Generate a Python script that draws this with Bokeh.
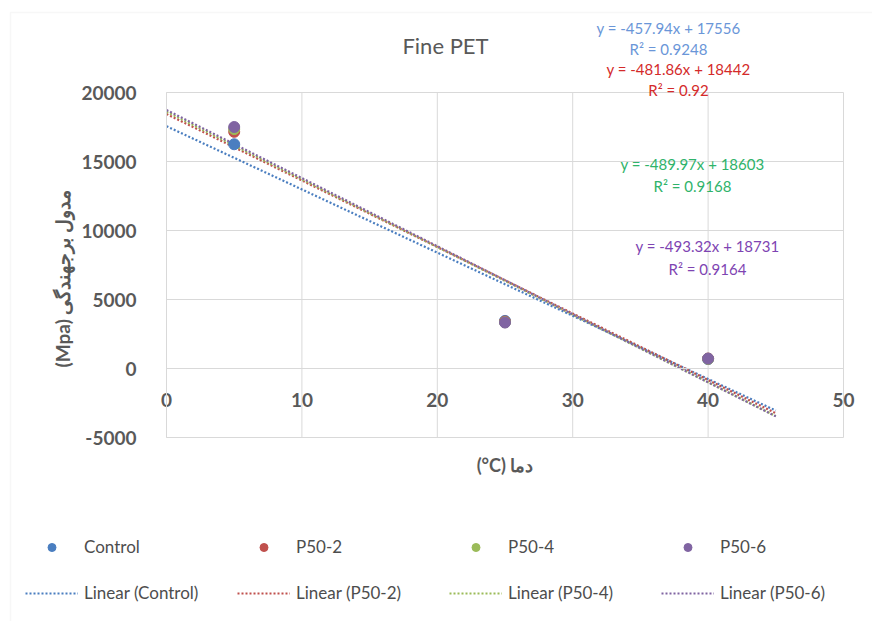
import math
from bokeh.plotting import figure
from bokeh.models import (Range1d, FixedTicker, Label, Legend, LegendItem, ColumnDataSource,
                          LinearAxis, BoxAnnotation)
from bokeh.embed import file_html
from bokeh.resources import INLINE

# ---- data ----
temps = [5, 25, 40]
series_names = ["Control", "P50-2", "P50-4", "P50-6"]
control = [16250, 3450, 680]
p50_2 = [17150, 3400, 720]
p50_4 = [17350, 3350, 700]
p50_6 = [17500, 3330, 720]
slopes = [-457.94, -481.86, -489.97, -493.32]
intercepts = [17556, 18442, 18603, 18731]
r2_values = [0.9248, 0.92, 0.9168, 0.9164]
trend_x = [0, 45]
x_ticks = [0, 10, 20, 30, 40, 50]
y_ticks = [-5000, 0, 5000, 10000, 15000, 20000]

title_text = "Fine PET"
x_title = "(°C) دما"
y_title = "(Mpa) مدول برجهندگی"

# ---- layout (pixel geometry of the plot area inside the 872x621 canvas) ----
W, H = 872, 621
PX_X0, PX_X1 = 166, 843     # x = 0 .. 50
PX_Y0, PX_Y1 = 437, 92      # y = -5000 .. 20000
kx = (PX_X1 - PX_X0) / (x_ticks[-1] - x_ticks[0])
ky = (PX_Y0 - PX_Y1) / (y_ticks[-1] - y_ticks[0])
def px2x(px):
    return x_ticks[0] + (px - PX_X0) / kx
def py2y(py):
    return y_ticks[0] + (PX_Y0 - py) / ky

# ---- styles ----
marker_colors = ["#4A7EC0", "#C0504D", "#9BBB59", "#8064A2"]
eq_colors = ["#6A96D8", "#D42A2A", "#2FB36A", "#7E44B2"]
FONT = "Lato"
GRAY = "#595959"
GRID = "#D9D9D9"

p = figure(width=W, height=H, output_backend="svg", toolbar_location=None,
           x_range=Range1d(px2x(0), px2x(W)), y_range=Range1d(py2y(H), py2y(0)),
           x_axis_type=None, y_axis_type=None,
           min_border=0, min_border_left=0, min_border_right=0,
           min_border_top=0, min_border_bottom=0)
p.outline_line_color = None
p.background_fill_color = "white"
p.border_fill_color = "white"
p.title.visible = False

# chart-area border (left/top visible in the reference)
p.add_layout(BoxAnnotation(left=px2x(10), right=px2x(W + 20), top=py2y(12), bottom=py2y(H + 20),
                           fill_alpha=0, line_color="#E3E3E3", line_width=1.5))

# axes placed at data locations
xaxis = LinearAxis(ticker=FixedTicker(ticks=x_ticks), fixed_location=0,
                   bounds=(x_ticks[0], x_ticks[-1]))
yaxis = LinearAxis(ticker=FixedTicker(ticks=y_ticks), fixed_location=0,
                   bounds=(y_ticks[0], y_ticks[-1]))
for ax in (xaxis, yaxis):
    ax.axis_line_color = GRID
    ax.major_tick_line_color = None
    ax.minor_tick_line_color = None
    ax.major_label_text_font = FONT
    ax.major_label_text_font_size = "19px"
    ax.major_label_text_font_style = "bold"
    ax.major_label_text_color = GRAY
    ax.axis_label_text_font = FONT
    ax.axis_label_text_font_size = "18px"
    ax.axis_label_text_font_style = "bold"
    ax.axis_label_text_color = GRAY
xaxis.major_label_overrides = {t: str(t) for t in x_ticks}
yaxis.major_label_overrides = {t: str(t) for t in y_ticks}
xaxis.major_label_standoff = 18
xaxis.axis_label = x_title
xaxis.axis_label_standoff = 44
yaxis.major_label_standoff = 24
p.add_layout(xaxis, "below")
p.add_layout(yaxis, "left")

# y-axis title (rotated), anchored at its lower end
p.add_layout(Label(x=px2x(62), y=py2y(367), text=y_title, angle=math.pi / 2,
                   text_font=FONT, text_font_size="19px", text_font_style="bold",
                   text_color=GRAY, text_align="left", text_baseline="middle"))

# grids limited to the plot area
xs_grid, ys_grid = [], []
for t in x_ticks:
    xs_grid.append([t, t]); ys_grid.append([y_ticks[0], y_ticks[-1]])
for t in y_ticks:
    xs_grid.append([x_ticks[0], x_ticks[-1]]); ys_grid.append([t, t])
p.multi_line(xs_grid, ys_grid, line_color=GRID, line_width=1, level="underlay")

all_series = [control, p50_2, p50_4, p50_6]
point_renderers = []
line_renderers = []
for name, col, m, b in zip(series_names, marker_colors, slopes, intercepts):
    ty = [m * xx + b for xx in trend_x]
    lr = p.line(trend_x, ty, line_color=col, line_width=2.2, line_dash="2 2")
    line_renderers.append(lr)
for name, vals, col in zip(series_names, all_series, marker_colors):
    src = ColumnDataSource(dict(x=temps, y=vals))
    r = p.scatter("x", "y", source=src, size=11, fill_color=col, line_color=col)
    point_renderers.append(r)

# title
p.add_layout(Label(x=px2x(445), y=py2y(45), text=title_text, text_font=FONT, text_font_size="22px",
                   text_color=GRAY, text_align="center", text_baseline="middle"))

# trendline equations
eq_pos = [(668, 27, 48), (678, 68, 89), (692, 163, 185), (707, 245, 268)]
for (xx, ye, yr), m, b, r2, col in zip(eq_pos, slopes, intercepts, r2_values, eq_colors):
    p.add_layout(Label(x=px2x(xx), y=py2y(ye), text=f"y = {m}x + {b}", text_font=FONT,
                       text_font_size="15px", text_color=col, text_align="center",
                       text_baseline="middle"))
    p.add_layout(Label(x=px2x(xx), y=py2y(yr), text=f"R\u00b2 = {r2}", text_font=FONT,
                       text_font_size="15px", text_color=col, text_align="center",
                       text_baseline="middle"))

# legends (two rows)
def make_legend(items, row_center_px):
    return Legend(items=items, orientation="horizontal",
                  location=(25, H - (row_center_px + 10)),
                  glyph_width=53, glyph_height=20, label_height=20, label_standoff=6,
                  label_width=140, spacing=13, padding=0, margin=0,
                  border_line_color=None, background_fill_alpha=0,
                  label_text_font=FONT, label_text_font_size="17px", label_text_color="#4D4D4D")

leg1 = make_legend([LegendItem(label=n, renderers=[r]) for n, r in zip(series_names, point_renderers)], 547)
leg2 = make_legend([LegendItem(label=f"Linear ({n})", renderers=[r])
                    for n, r in zip(series_names, line_renderers)], 593)
p.add_layout(leg1, "center")
p.add_layout(leg2, "center")

open("out.html", "w").write(file_html(p, INLINE))
